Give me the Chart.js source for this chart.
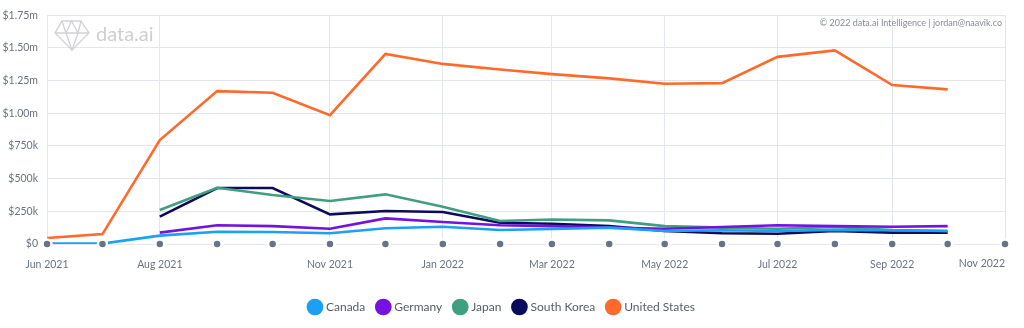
<!DOCTYPE html>
<html>
<head>
<meta charset="utf-8">
<script src="https://cdn.jsdelivr.net/npm/chart.js@4/dist/chart.umd.min.js"></script>
<style>
html,body{margin:0;padding:0;background:#fff;}
#wrap{width:1024px;height:328px;}
</style>
</head>
<body>
<div id="wrap"><canvas id="chart"></canvas></div>
<script>
/* DATA (values in $k) */
const months=["2021-06","2021-07","2021-08","2021-09","2021-10","2021-11","2021-12","2022-01","2022-02","2022-03","2022-04","2022-05","2022-06","2022-07","2022-08","2022-09","2022-10","2022-11"];
const tickLabels=["Jun 2021","Aug 2021","Nov 2021","Jan 2022","Mar 2022","May 2022","Jul 2022","Sep 2022","Nov 2022"];
const yTicks=[0,250,500,750,1000,1250,1500,1750];

const canada=[3,3,64,94,92,82,120,132,107,115,125,100,105,100,108,105,100,null];
const germany=[null,null,87,143,137,117,196,168,143,137,125,117,130,143,137,132,137,null];
const japan=[null,null,260,430,375,329,380,285,176,188,181,137,125,117,130,107,100,null];
const southKorea=[null,null,209,428,428,227,252,245,163,155,137,100,82,79,100,87,87,null];
const unitedStates=[46,76,795,1170,1157,986,1455,1378,1335,1300,1267,1226,1231,1432,1481,1216,1183,null];

const MON=["Jan","Feb","Mar","Apr","May","Jun","Jul","Aug","Sep","Oct","Nov","Dec"];

/* HELPERS */
function toDay(m){
let p=m.split("-");
return Date.UTC(+p[0],+p[1]-1,1)/86400000;
}
function monthName(m){
let p=m.split("-");
return MON[+p[1]-1]+" "+p[0];
}
const days=months.map(toDay);
const lastDay=days[days.length-1];
function pts(arr){
return arr.map((v,i)=>({x:days[i],y:v}));
}
function fmtMoney(v){
if(v===0)return "$0";
if(v<1000)return "$"+v+"k";
return "$"+(v/1000).toFixed(2)+"m";
}
const labelAt={};
months.forEach(m=>{
let n=monthName(m);
if(tickLabels.includes(n))labelAt[toDay(m)]=n;
});

const FONT="Lato, 'Noto Sans', sans-serif";
const GRID="#e3e6ec";
const TICK="#6b7280";

/* DECOR: watermark, credit, last x label kept inside */
const decor={
id:"decor",
beforeDatasetsDraw(chart){
const c=chart.ctx;
c.save();
c.strokeStyle="#d2d2d6";
c.lineWidth=1.3;
c.beginPath();
c.moveTo(62,21);c.lineTo(81,21);c.lineTo(89,33);c.lineTo(72,50);c.lineTo(55,33);c.closePath();
c.moveTo(55,33);c.lineTo(89,33);
c.moveTo(62,21);c.lineTo(66,33);c.lineTo(72,50);c.lineTo(78,33);c.lineTo(81,21);
c.moveTo(66,33);c.lineTo(71.5,21);c.lineTo(78,33);
c.stroke();
c.fillStyle="#cfcfd3";
c.font="20px "+FONT;
c.textBaseline="middle";
c.fillText("data.ai",96,35);
c.restore();
},
afterDraw(chart){
const c=chart.ctx;
const a=chart.chartArea;
c.save();
c.fillStyle="#878c96";
c.font="9px "+FONT;
c.textAlign="right";
c.textBaseline="middle";
c.fillText("\u00a9 2022 data.ai Intelligence | jordan@naavik.co",1002,23);
c.fillStyle=TICK;
c.font="10.5px "+FONT;
c.textBaseline="top";
c.fillText(labelAt[lastDay],a.right,a.bottom+14);
c.restore();
}
};

function line(label,data,color){
return {
label:label,
data:pts(data),
borderColor:color,
backgroundColor:color,
borderWidth:2.6,
pointRadius:0,
pointHoverRadius:0,
tension:0,
spanGaps:false
};
}

/* CHART */
new Chart(document.getElementById("chart"),{
type:"line",
data:{
datasets:[
line("Canada",canada,"#1aa0f5"),
line("Germany",germany,"#7512e3"),
line("Japan",japan,"#3f9f80"),
line("South Korea",southKorea,"#0b0b5e"),
line("United States",unitedStates,"#ff6a2c"),
{
label:"axis",
data:days.map(d=>({x:d,y:0})),
showLine:false,
pointRadius:4.5,
pointHoverRadius:4.5,
pointBackgroundColor:"#687388",
pointBorderColor:"#ffffff",
pointBorderWidth:2.5,
clip:false,
order:-1
}
]
},
options:{
responsive:true,
maintainAspectRatio:false,
animation:false,
layout:{padding:{left:0,right:19,top:15,bottom:5}},
plugins:{
tooltip:{enabled:false},
legend:{
position:"bottom",
labels:{
usePointStyle:true,
pointStyle:"circle",
boxWidth:10,
boxHeight:10,
padding:13,
color:"#575c66",
font:{family:FONT,size:12},
filter:item=>item.text!=="axis"
}
}
},
scales:{
x:{
type:"linear",
min:days[0],
max:lastDay,
afterBuildTicks(scale){
scale.ticks=days.map(d=>({value:d}));
},
afterFit(scale){
scale.height=44;
scale.paddingLeft=0;
scale.paddingRight=0;
},
grid:{
color:ctx=>(ctx.tick&&labelAt[ctx.tick.value])?GRID:"rgba(0,0,0,0)",
drawTicks:false
},
border:{display:false},
ticks:{
autoSkip:false,
maxRotation:0,
padding:14,
color:TICK,
font:{family:FONT,size:10.5},
callback:v=>(v===lastDay)?"":(labelAt[v]||"")
}
},
y:{
min:0,
max:1750,
afterBuildTicks(scale){
scale.ticks=yTicks.map(v=>({value:v}));
},
afterFit(scale){scale.width=47;},
grid:{color:GRID,drawTicks:false},
border:{display:false},
ticks:{
padding:9,
color:TICK,
font:{family:FONT,size:10.5},
callback:v=>fmtMoney(v)
}
}
}
},
plugins:[decor]
});
</script>
</body>
</html>
